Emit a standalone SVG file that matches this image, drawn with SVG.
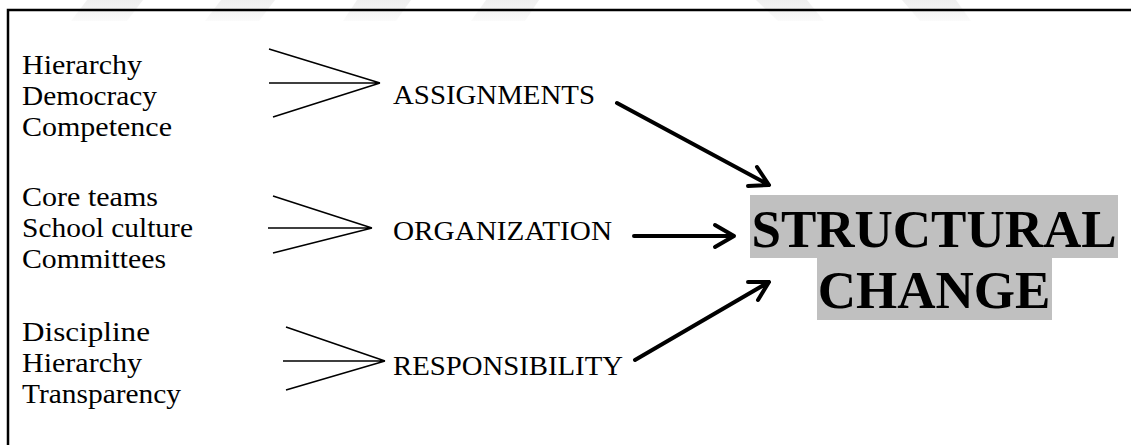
<svg xmlns="http://www.w3.org/2000/svg" width="1131" height="445" viewBox="0 0 1131 445">
<style>
.lbl{font-family:"Liberation Serif","Times New Roman",serif;font-size:28px;fill:#000}
.big{font-family:"Liberation Serif","Times New Roman",serif;font-size:53px;font-weight:bold;fill:#000}
.fan{stroke:#000;stroke-width:1.6;fill:none}
.arr{stroke:#000;stroke-width:4;fill:none;stroke-linecap:round;stroke-linejoin:round}
.wm{fill:url(#wmg)}
</style>
<defs>
<linearGradient id="wmg" x1="0" y1="0" x2="0" y2="1">
<stop offset="0" stop-color="#efefef"/>
<stop offset="1" stop-color="#fbfbfb"/>
</linearGradient>
</defs>
<rect width="1131" height="445" fill="#fff"/>
<g id="watermark">
<polygon class="wm" points="87,0 143,0 127,21 71,21"/>
<polygon class="wm" points="221,0 275,0 259,21 205,21"/>
<polygon class="wm" points="357,0 411,0 396,21 343,21"/>
<polygon class="wm" points="486,0 539,0 525,21 471,21"/>
<polygon class="wm" points="756,0 807,0 824,21 778,21"/>
<polygon class="wm" points="902,0 956,0 971,21 920,21"/>
</g>
<g id="frame">
<path d="M8,445 V10 H1131" fill="none" stroke="#000" stroke-width="2.5"/>
</g>
<g id="n-assign-inputs">
<text class="lbl" x="22" y="74" textLength="120" lengthAdjust="spacingAndGlyphs">Hierarchy</text>
<text class="lbl" x="22" y="105" textLength="135" lengthAdjust="spacingAndGlyphs">Democracy</text>
<text class="lbl" x="22" y="136" textLength="150" lengthAdjust="spacingAndGlyphs">Competence</text>
</g>
<g id="n-org-inputs">
<text class="lbl" x="22" y="206" textLength="136" lengthAdjust="spacingAndGlyphs">Core teams</text>
<text class="lbl" x="22" y="237" textLength="171" lengthAdjust="spacingAndGlyphs">School culture</text>
<text class="lbl" x="22" y="268" textLength="144" lengthAdjust="spacingAndGlyphs">Committees</text>
</g>
<g id="n-resp-inputs">
<text class="lbl" x="22" y="341" textLength="128" lengthAdjust="spacingAndGlyphs">Discipline</text>
<text class="lbl" x="22" y="372" textLength="120" lengthAdjust="spacingAndGlyphs">Hierarchy</text>
<text class="lbl" x="22" y="403" textLength="159" lengthAdjust="spacingAndGlyphs">Transparency</text>
</g>
<g id="n-assignments">
<text class="lbl" x="393" y="104" textLength="202" lengthAdjust="spacingAndGlyphs">ASSIGNMENTS</text>
</g>
<g id="n-organization">
<text class="lbl" x="393" y="240" textLength="219" lengthAdjust="spacingAndGlyphs">ORGANIZATION</text>
</g>
<g id="n-responsibility">
<text class="lbl" x="393" y="375" textLength="230" lengthAdjust="spacingAndGlyphs">RESPONSIBILITY</text>
</g>
<g id="n-structural-change">
<rect x="750" y="195" width="368" height="63" fill="#c0c0c0"/>
<rect x="817" y="258" width="235" height="62" fill="#c0c0c0"/>
<text class="big" x="934" y="247" text-anchor="middle">STRUCTURAL</text>
<text class="big" x="934" y="308" text-anchor="middle">CHANGE</text>
</g>
<g id="connectors">
<path class="fan" d="M269,49 L380,83 M269,83 L380,83 M273,117 L380,83"/>
<path class="fan" d="M273,196 L372,228 M268,228 L372,228 M273,253 L372,228"/>
<path class="fan" d="M286,327 L385,361 M283,361 L385,361 M286,390 L385,361"/>
<path class="arr" d="M617,103 L769,185 M757,167 L769,185 L748,186"/>
<path class="arr" d="M634,236 L734,236 M715,225 L734,236 L715,247"/>
<path class="arr" d="M635,360 L769,282 M748,282 L769,282 L758,300"/>
</g>
</svg>
